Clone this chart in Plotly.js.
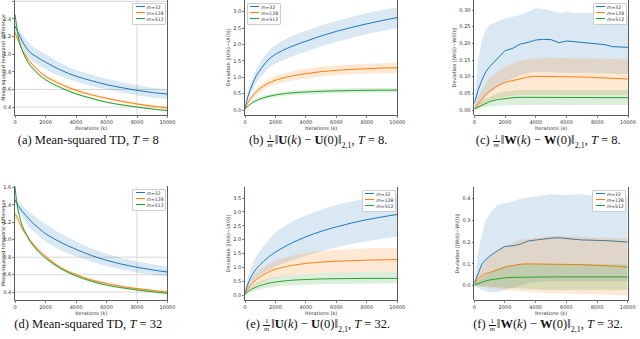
<!DOCTYPE html>
<html>
<head>
<meta charset="utf-8">
<script src="https://cdn.plot.ly/plotly-3.0.1.min.js"></script>
<style>
  html, body { margin: 0; padding: 0; background: #fff; }
  #wrap { position: relative; width: 640px; height: 339px; overflow: hidden; }
  #chart { position: absolute; left: 0; top: 0; width: 640px; height: 339px; }
  .cap { position: absolute; width: 220px; text-align: center; white-space: nowrap;
         font-family: 'Liberation Serif', serif; font-size: 12.5px; line-height: 14px; color: #111; }
  .cap sub { font-size: 8px; line-height: 0; }
  .frac { display: inline-block; vertical-align: -3px; text-align: center;
          font-size: 7px; line-height: 7px; margin-right: 1px; }
  .frac span { display: block; padding: 0 1px; }
  .frac .den { border-top: 0.7px solid #111; }
  .leg { position: absolute; width: 32px; padding: 1px 0 1px 0; background: rgba(255,255,255,0.85);
         border: 0.6px solid #ccc; border-radius: 1px;
         font-family: 'DejaVu Sans', sans-serif; font-size: 4.6px; line-height: 6.1px; color: #333; }
  .leg div { white-space: nowrap; }
  .leg .sw { display: inline-block; width: 9px; height: 0; border-top: 1px solid; vertical-align: 1.6px;
             margin: 0 2px 0 2.5px; }
</style>
</head>
<body>
<div id="wrap"><div id="chart"></div></div>
<script>
// iterations sampled for the smooth panels (a, b, d, e)
let itersSmooth = [0, 100, 250, 500, 750, 1000, 1500, 2000, 3000, 4000, 5000, 6000, 7000, 8000, 9000, 10000];
// iterations sampled for the noisy panels (c, f)
let itersNoisy = [0, 250, 500, 750, 1000, 1500, 2000, 2500, 3000, 3500, 4000, 4500, 5000, 5500, 6000, 6500, 7000, 7500, 8000, 8500, 9000, 9500, 10000];

let widthNames = ['m=32', 'm=128', 'm=512'];
let xTicks = [0, 2000, 4000, 6000, 8000, 10000];

// (a) mean-squared TD, T = 8
let aMean32 = [1.32, 1.28, 1.23, 1.14, 1.07, 1.02, 0.96, 0.91, 0.82, 0.75, 0.70, 0.655, 0.62, 0.59, 0.565, 0.548];
let aUp32 = [1.38, 1.34, 1.29, 1.22, 1.16, 1.11, 1.05, 1.00, 0.90, 0.82, 0.77, 0.72, 0.68, 0.65, 0.62, 0.60];
let aLo32 = [1.26, 1.22, 1.16, 1.06, 0.99, 0.94, 0.88, 0.83, 0.75, 0.69, 0.64, 0.60, 0.565, 0.535, 0.51, 0.495];
let aMean128 = [1.25, 1.20, 1.14, 1.04, 0.97, 0.91, 0.82, 0.75, 0.66, 0.59, 0.54, 0.50, 0.465, 0.435, 0.41, 0.39];
let aUp128 = [1.27, 1.22, 1.16, 1.06, 0.99, 0.93, 0.84, 0.77, 0.68, 0.61, 0.555, 0.515, 0.48, 0.45, 0.425, 0.405];
let aLo128 = [1.10, 1.17, 1.12, 1.02, 0.95, 0.89, 0.80, 0.73, 0.64, 0.57, 0.525, 0.485, 0.45, 0.42, 0.395, 0.375];
let aMean512 = [1.45, 1.33, 1.17, 1.03, 0.94, 0.87, 0.78, 0.71, 0.62, 0.55, 0.50, 0.455, 0.425, 0.40, 0.378, 0.36];
let aUp512 = [1.46, 1.35, 1.19, 1.045, 0.955, 0.885, 0.795, 0.722, 0.632, 0.562, 0.51, 0.465, 0.435, 0.41, 0.388, 0.37];
let aLo512 = [1.44, 1.31, 1.15, 1.015, 0.925, 0.855, 0.765, 0.698, 0.608, 0.538, 0.49, 0.445, 0.415, 0.39, 0.368, 0.35];

// (b) deviation of U, T = 8
let bMean32 = [0.03, 0.25, 0.50, 0.80, 1.05, 1.22, 1.52, 1.70, 1.93, 2.10, 2.26, 2.40, 2.52, 2.63, 2.73, 2.82];
let bUp32 = [0.05, 0.32, 0.62, 0.98, 1.26, 1.45, 1.78, 1.98, 2.24, 2.42, 2.58, 2.72, 2.84, 2.95, 3.05, 3.13];
let bLo32 = [0.01, 0.18, 0.38, 0.62, 0.84, 0.99, 1.26, 1.42, 1.62, 1.78, 1.94, 2.08, 2.20, 2.31, 2.41, 2.50];
let bMean128 = [0.03, 0.14, 0.27, 0.43, 0.56, 0.66, 0.81, 0.91, 1.03, 1.11, 1.17, 1.21, 1.24, 1.26, 1.28, 1.29];
let bUp128 = [0.05, 0.19, 0.34, 0.52, 0.66, 0.77, 0.93, 1.04, 1.17, 1.26, 1.32, 1.36, 1.39, 1.41, 1.43, 1.44];
let bLo128 = [0.01, 0.10, 0.20, 0.34, 0.46, 0.55, 0.69, 0.78, 0.89, 0.96, 1.02, 1.06, 1.09, 1.11, 1.13, 1.14];
let bMean512 = [0.03, 0.08, 0.14, 0.23, 0.29, 0.34, 0.41, 0.46, 0.52, 0.55, 0.57, 0.585, 0.595, 0.60, 0.605, 0.61];
let bUp512 = [0.04, 0.10, 0.17, 0.27, 0.34, 0.40, 0.47, 0.52, 0.59, 0.62, 0.64, 0.655, 0.665, 0.67, 0.675, 0.68];
let bLo512 = [0.02, 0.06, 0.11, 0.19, 0.24, 0.28, 0.35, 0.40, 0.45, 0.48, 0.50, 0.515, 0.525, 0.53, 0.535, 0.54];

// (c) deviation of W, T = 8
let cMean32 = [0.02, 0.06, 0.09, 0.115, 0.13, 0.155, 0.178, 0.185, 0.198, 0.203, 0.21, 0.212, 0.211, 0.202, 0.207, 0.205, 0.203, 0.201, 0.199, 0.196, 0.19, 0.188, 0.188];
let cUp32 = [0.03, 0.15, 0.21, 0.24, 0.255, 0.265, 0.275, 0.28, 0.285, 0.295, 0.305, 0.303, 0.298, 0.29, 0.295, 0.29, 0.29, 0.292, 0.288, 0.29, 0.288, 0.285, 0.285];
let cLo32 = [0.005, 0.01, 0.02, 0.04, 0.05, 0.07, 0.085, 0.095, 0.105, 0.11, 0.115, 0.115, 0.115, 0.112, 0.113, 0.112, 0.112, 0.11, 0.11, 0.11, 0.108, 0.108, 0.108];
let cMean128 = [0.005, 0.02, 0.035, 0.047, 0.057, 0.072, 0.083, 0.089, 0.095, 0.099, 0.101, 0.101, 0.1, 0.1, 0.1, 0.1, 0.099, 0.098, 0.097, 0.096, 0.095, 0.094, 0.093];
let cUp128 = [0.01, 0.04, 0.06, 0.08, 0.095, 0.115, 0.13, 0.14, 0.148, 0.152, 0.155, 0.156, 0.156, 0.155, 0.156, 0.155, 0.155, 0.154, 0.154, 0.153, 0.153, 0.152, 0.152];
let cLo128 = [0.0, 0.005, 0.012, 0.02, 0.026, 0.035, 0.04, 0.043, 0.045, 0.045, 0.046, 0.046, 0.046, 0.045, 0.046, 0.045, 0.045, 0.045, 0.045, 0.045, 0.045, 0.045, 0.045];
let cMean512 = [0.003, 0.008, 0.015, 0.02, 0.025, 0.031, 0.035, 0.037, 0.038, 0.038, 0.038, 0.038, 0.038, 0.038, 0.038, 0.038, 0.038, 0.038, 0.037, 0.037, 0.037, 0.037, 0.037];
let cUp512 = [0.005, 0.015, 0.025, 0.033, 0.04, 0.05, 0.056, 0.059, 0.06, 0.06, 0.061, 0.061, 0.061, 0.06, 0.06, 0.06, 0.06, 0.06, 0.06, 0.06, 0.06, 0.06, 0.06];
let cLo512 = [0.0, 0.002, 0.006, 0.009, 0.011, 0.013, 0.014, 0.015, 0.015, 0.015, 0.015, 0.015, 0.015, 0.015, 0.015, 0.015, 0.015, 0.015, 0.015, 0.015, 0.015, 0.015, 0.015];

// (d) mean-squared TD, T = 32
let dMean32 = [1.46, 1.42, 1.38, 1.32, 1.27, 1.22, 1.14, 1.07, 0.97, 0.89, 0.82, 0.765, 0.72, 0.685, 0.655, 0.63];
let dUp32 = [1.50, 1.47, 1.44, 1.39, 1.35, 1.31, 1.24, 1.18, 1.07, 0.98, 0.90, 0.84, 0.79, 0.75, 0.72, 0.69];
let dLo32 = [1.42, 1.37, 1.32, 1.25, 1.19, 1.13, 1.05, 0.98, 0.88, 0.81, 0.75, 0.70, 0.66, 0.625, 0.60, 0.575];
let dMean128 = [1.30, 1.27, 1.21, 1.12, 1.05, 0.99, 0.89, 0.81, 0.68, 0.60, 0.54, 0.50, 0.465, 0.44, 0.42, 0.40];
let dUp128 = [1.32, 1.29, 1.23, 1.14, 1.07, 1.01, 0.91, 0.83, 0.70, 0.615, 0.555, 0.513, 0.478, 0.452, 0.432, 0.412];
let dLo128 = [1.16, 1.25, 1.19, 1.10, 1.03, 0.97, 0.87, 0.79, 0.66, 0.585, 0.525, 0.487, 0.452, 0.428, 0.408, 0.388];
let dMean512 = [1.61, 1.45, 1.30, 1.15, 1.06, 0.98, 0.87, 0.79, 0.67, 0.585, 0.525, 0.48, 0.45, 0.425, 0.405, 0.385];
let dUp512 = [1.62, 1.47, 1.32, 1.165, 1.075, 0.995, 0.883, 0.802, 0.68, 0.595, 0.535, 0.49, 0.46, 0.435, 0.415, 0.395];
let dLo512 = [1.60, 1.43, 1.28, 1.135, 1.045, 0.965, 0.857, 0.778, 0.66, 0.575, 0.515, 0.47, 0.44, 0.415, 0.395, 0.375];

// (e) deviation of U, T = 32
let eMean32 = [0.03, 0.25, 0.48, 0.75, 0.95, 1.10, 1.35, 1.55, 1.86, 2.10, 2.30, 2.46, 2.60, 2.72, 2.82, 2.91];
let eUp32 = [0.05, 0.40, 0.75, 1.12, 1.40, 1.60, 1.95, 2.25, 2.62, 2.88, 3.08, 3.25, 3.38, 3.48, 3.56, 3.62];
let eLo32 = [0.01, 0.12, 0.26, 0.44, 0.58, 0.70, 0.88, 1.02, 1.24, 1.42, 1.58, 1.72, 1.84, 1.94, 2.03, 2.11];
let eMean128 = [0.03, 0.14, 0.27, 0.43, 0.56, 0.66, 0.82, 0.93, 1.06, 1.14, 1.19, 1.22, 1.24, 1.26, 1.27, 1.28];
let eUp128 = [0.05, 0.22, 0.40, 0.62, 0.78, 0.91, 1.10, 1.24, 1.41, 1.52, 1.59, 1.63, 1.66, 1.68, 1.70, 1.71];
let eLo128 = [0.01, 0.07, 0.15, 0.26, 0.35, 0.42, 0.54, 0.62, 0.71, 0.76, 0.79, 0.81, 0.82, 0.83, 0.84, 0.85];
let eMean512 = [0.03, 0.08, 0.14, 0.23, 0.29, 0.34, 0.42, 0.47, 0.53, 0.56, 0.58, 0.59, 0.595, 0.60, 0.60, 0.60];
let eUp512 = [0.05, 0.13, 0.22, 0.34, 0.43, 0.49, 0.59, 0.65, 0.72, 0.76, 0.79, 0.81, 0.82, 0.83, 0.84, 0.84];
let eLo512 = [0.01, 0.04, 0.07, 0.13, 0.17, 0.21, 0.26, 0.30, 0.35, 0.37, 0.39, 0.40, 0.41, 0.41, 0.42, 0.42];

// (f) deviation of W, T = 32
let fMean32 = [0.01, 0.06, 0.10, 0.12, 0.135, 0.16, 0.18, 0.183, 0.19, 0.205, 0.21, 0.212, 0.218, 0.22, 0.215, 0.213, 0.21, 0.21, 0.208, 0.207, 0.205, 0.202, 0.2];
let fUp32 = [0.02, 0.15, 0.24, 0.30, 0.33, 0.37, 0.38, 0.385, 0.40, 0.405, 0.41, 0.412, 0.42, 0.418, 0.415, 0.418, 0.42, 0.415, 0.41, 0.412, 0.41, 0.41, 0.41];
let fLo32 = [0.0, -0.01, -0.02, -0.025, -0.03, -0.03, -0.02, -0.01, 0.0, 0.01, 0.015, 0.02, 0.02, 0.02, 0.02, 0.02, 0.02, 0.02, 0.02, 0.02, 0.02, 0.02, 0.02];
let fMean128 = [0.005, 0.03, 0.045, 0.055, 0.06, 0.072, 0.085, 0.092, 0.098, 0.1, 0.1, 0.1, 0.1, 0.1, 0.098, 0.097, 0.096, 0.095, 0.093, 0.091, 0.09, 0.088, 0.085];
let fUp128 = [0.01, 0.06, 0.09, 0.11, 0.13, 0.16, 0.18, 0.195, 0.21, 0.215, 0.22, 0.225, 0.228, 0.228, 0.226, 0.225, 0.224, 0.223, 0.222, 0.22, 0.218, 0.216, 0.215];
let fLo128 = [0.0, 0.0, -0.005, -0.008, -0.01, -0.015, -0.02, -0.022, -0.025, -0.028, -0.03, -0.032, -0.035, -0.035, -0.035, -0.037, -0.038, -0.039, -0.04, -0.041, -0.042, -0.044, -0.045];
let fMean512 = [0.003, 0.01, 0.017, 0.022, 0.026, 0.032, 0.036, 0.038, 0.039, 0.04, 0.04, 0.04, 0.04, 0.04, 0.04, 0.04, 0.04, 0.04, 0.04, 0.04, 0.04, 0.04, 0.04];
let fUp512 = [0.005, 0.02, 0.035, 0.048, 0.058, 0.075, 0.088, 0.095, 0.1, 0.1, 0.1, 0.1, 0.1, 0.1, 0.1, 0.1, 0.099, 0.099, 0.099, 0.098, 0.098, 0.098, 0.098];
let fLo512 = [0.0, 0.0, -0.003, -0.004, -0.005, -0.01, -0.012, -0.014, -0.015, -0.017, -0.02, -0.02, -0.02, -0.02, -0.02, -0.02, -0.02, -0.02, -0.02, -0.02, -0.02, -0.02, -0.02];

let lineColors = ['#1f77b4', '#ff7f0e', '#2ca02c'];
let bandColors = ['rgba(31,119,180,0.17)', 'rgba(255,127,14,0.18)', 'rgba(44,160,44,0.17)'];

let fracM = '<span class="frac"><span>1</span><span class="den"><i>m</i></span></span>';

// panel boxes in pixels: [left, right, top, bottom]
let panels = [
    {box: [15, 167.5, 0, 115], x: itersSmooth, yr: [0.31, 1.615], dtick: 0.2, fmt: '.1f',
     ytitle: 'Mean-squared temporal difference', legend: 'tr', shape: 'spline',
     series: [[aMean32, aUp32, aLo32], [aMean128, aUp128, aLo128], [aMean512, aUp512, aLo512]],
     caption: '(a) Mean-squared TD, <i>T</i> = 8'},
    {box: [245, 397.3, 0, 115], x: itersSmooth, yr: [-0.152, 3.357], dtick: 0.5, fmt: '.1f',
     ytitle: 'Deviation ||U(k)−U(0)||', legend: 'tl', shape: 'spline',
     series: [[bMean32, bUp32, bLo32], [bMean128, bUp128, bLo128], [bMean512, bUp512, bLo512]],
     caption: '(b) ' + fracM + '‖<b>U</b>(<i>k</i>) − <b>U</b>(0)‖<sub>2,1</sub>, <i>T</i> = 8.'},
    {box: [474.3, 628, 0, 115], x: itersNoisy, yr: [-0.015, 0.33], dtick: 0.05, fmt: '.2f',
     ytitle: 'Deviation ||W(k)−W(0)||', legend: 'tr', shape: 'linear',
     series: [[cMean32, cUp32, cLo32], [cMean128, cUp128, cLo128], [cMean512, cUp512, cLo512]],
     caption: '(c) ' + fracM + '‖<b>W</b>(<i>k</i>) − <b>W</b>(0)‖<sub>2,1</sub>, <i>T</i> = 8.'},
    {box: [15, 167.5, 186, 300], x: itersSmooth, yr: [0.31, 1.615], dtick: 0.2, fmt: '.1f',
     ytitle: 'Mean-squared temporal difference', legend: 'tr', shape: 'spline',
     series: [[dMean32, dUp32, dLo32], [dMean128, dUp128, dLo128], [dMean512, dUp512, dLo512]],
     caption: '(d) Mean-squared TD, <i>T</i> = 32'},
    {box: [245, 397.3, 187, 300], x: itersSmooth, yr: [-0.18, 3.9], dtick: 0.5, fmt: '.1f',
     ytitle: 'Deviation ||U(k)−U(0)||', legend: 'tr', shape: 'spline',
     series: [[eMean32, eUp32, eLo32], [eMean128, eUp128, eLo128], [eMean512, eUp512, eLo512]],
     caption: '(e) ' + fracM + '‖<b>U</b>(<i>k</i>) − <b>U</b>(0)‖<sub>2,1</sub>, <i>T</i> = 32.'},
    {box: [474.3, 627.7, 187, 300], x: itersNoisy, yr: [-0.066, 0.453], dtick: 0.1, fmt: '.1f',
     ytitle: 'Deviation ||W(k)−W(0)||', legend: 'tr', shape: 'linear',
     series: [[fMean32, fUp32, fLo32], [fMean128, fUp128, fLo128], [fMean512, fUp512, fLo512]],
     caption: '(f) ' + fracM + '‖<b>W</b>(<i>k</i>) − <b>W</b>(0)‖<sub>2,1</sub>, <i>T</i> = 32.'}
];

let W = 640, H = 339;
let px = p => p / W;
let py = p => 1 - p / H;

let tickFont = {family: 'DejaVu Sans', size: 5, color: '#333'};
let data = [];
let layout = {
    width: W, height: H,
    margin: {l: 0, r: 0, t: 0, b: 0},
    paper_bgcolor: 'rgba(0,0,0,0)', plot_bgcolor: 'rgba(0,0,0,0)',
    showlegend: false,
    shapes: []
};
let wrap = document.getElementById('wrap');

panels.forEach((p, i) => {
    let n = i === 0 ? '' : String(i + 1);
    let xa = 'x' + n, ya = 'y' + n;

    layout['xaxis' + n] = {
        domain: [px(p.box[0]), px(p.box[1])], anchor: ya,
        range: [0, 10000], tickvals: xTicks, ticktext: xTicks.map(String),
        showline: true, linecolor: '#333', linewidth: 0.8, mirror: false,
        ticks: 'outside', ticklen: 2, tickwidth: 0.6, tickcolor: '#333',
        showgrid: false, zeroline: false, tickfont: tickFont,
        title: {text: 'Iterations (k)', font: tickFont, standoff: 2}
    };
    layout['yaxis' + n] = {
        domain: [py(p.box[3]), py(p.box[2])], anchor: xa,
        range: p.yr, dtick: p.dtick, tick0: 0, tickformat: p.fmt,
        showline: true, linecolor: '#333', linewidth: 0.8, mirror: true,
        ticks: 'outside', ticklen: 2, tickwidth: 0.6, tickcolor: '#333',
        showgrid: false, zeroline: false, tickfont: tickFont,
        title: {text: p.ytitle, font: tickFont, standoff: 2}
    };

    // band then mean for each width
    p.series.forEach((s, k) => {
        data.push({x: p.x, y: s[2], xaxis: xa, yaxis: ya, type: 'scatter', mode: 'lines',
                   line: {width: 0, shape: p.shape}, hoverinfo: 'skip'});
        data.push({x: p.x, y: s[1], xaxis: xa, yaxis: ya, type: 'scatter', mode: 'lines',
                   line: {width: 0, shape: p.shape}, fill: 'tonexty', fillcolor: bandColors[k], hoverinfo: 'skip'});
        data.push({x: p.x, y: s[0], xaxis: xa, yaxis: ya, type: 'scatter', mode: 'lines',
                   name: widthNames[k], line: {color: lineColors[k], width: 1, shape: p.shape}});
    });

    // small legend box (html, sits over the plot)
    let leg = document.createElement('div');
    leg.className = 'leg';
    let bx = p.legend === 'tr' ? p.box[1] - 35.5 : p.box[0] + 1.5;
    leg.style.left = bx + 'px';
    leg.style.top = (p.box[2] + 2.5) + 'px';
    widthNames.forEach((name, k) => {
        let row = document.createElement('div');
        row.innerHTML = '<span class="sw" style="border-color:' + lineColors[k] + '"></span><i>m</i>' + name.slice(1);
        leg.appendChild(row);
    });
    wrap.appendChild(leg);

    // caption under the panel
    let cap = document.createElement('div');
    cap.className = 'cap';
    cap.innerHTML = p.caption;
    cap.style.left = ((p.box[0] + p.box[1]) / 2 - 3 - 110) + 'px';
    cap.style.top = ((i < 3 ? 140 : 324) - 7) + 'px';
    wrap.appendChild(cap);
});

// light reference lines seen in the TD panels
[['x', 'y', [1.6, 0.6, 0.4]], ['x4', 'y4', [0.8, 0.6, 0.4]]].forEach(g => {
    g[2].forEach(v => layout.shapes.push({type: 'line', xref: g[0] + ' domain', yref: g[1],
        x0: 0, x1: 1, y0: v, y1: v, line: {color: '#cfcfcf', width: 0.8}, layer: 'below'}));
    layout.shapes.push({type: 'line', xref: g[0], yref: g[1] + ' domain',
        x0: 8000, x1: 8000, y0: 0, y1: 1, line: {color: '#cfcfcf', width: 0.8}, layer: 'below'});
});

Plotly.newPlot('chart', data, layout, {staticPlot: true});
</script>
</body>
</html>
